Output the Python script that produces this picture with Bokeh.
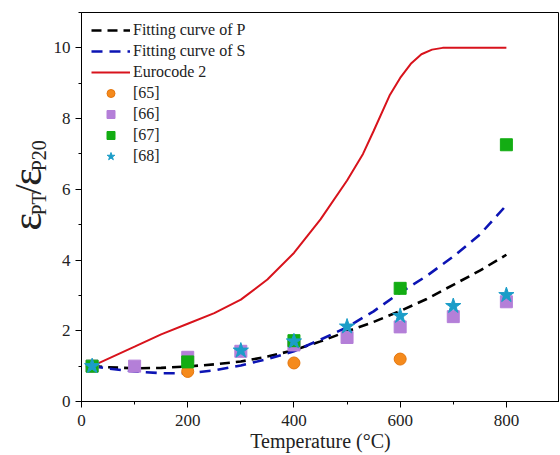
from bokeh.plotting import figure
from bokeh.layouts import row
from bokeh.models import Range1d, SingleIntervalTicker, Legend, LegendItem
from bokeh.core.properties import value
from bokeh.embed import file_html
from bokeh.resources import INLINE
import math

# ---- data ----
fit_t = [20, 50, 100, 150, 200, 250, 300, 350, 400, 450, 500, 550, 600, 650, 700, 750, 800]
fit_p = [1.0, 0.97, 0.94, 0.95, 0.99, 1.05, 1.13, 1.27, 1.45, 1.7, 1.98, 2.25, 2.56, 2.9, 3.3, 3.7, 4.15]
fit_s = [1.0, 0.93, 0.85, 0.80, 0.80, 0.88, 1.02, 1.2, 1.42, 1.75, 2.1, 2.55, 3.08, 3.55, 4.1, 4.72, 5.55]

ec2_t = [20, 100, 150, 200, 250, 300, 350, 400, 450, 500, 530, 550, 580, 600, 620, 640, 660, 680, 700, 800]
ec2_v = [1.0, 1.55, 1.9, 2.2, 2.5, 2.88, 3.45, 4.2, 5.15, 6.25, 7.0, 7.65, 8.65, 9.15, 9.55, 9.82, 9.95, 10.0, 10.0, 10.0]

r65_t = [20, 200, 400, 600]
r65_v = [1.0, 0.85, 1.09, 1.2]
r66_t = [20, 100, 200, 300, 400, 500, 600, 700, 800]
r66_v = [1.0, 1.0, 1.25, 1.42, 1.6, 1.81, 2.11, 2.4, 2.82]
r67_t = [20, 200, 400, 600, 800]
r67_v = [1.0, 1.12, 1.72, 3.2, 7.26]
r68_t = [20, 300, 400, 500, 600, 700, 800]
r68_v = [1.0, 1.44, 1.7, 2.12, 2.42, 2.7, 3.01]

x_title = "Temperature (°C)"
legend_labels = ["Fitting curve of P", "Fitting curve of S", "Eurocode 2", "[65]", "[66]", "[67]", "[68]"]
y_title_pieces = ["ε", "PT", "/", "ε", "P20"]

FONT = "'Liberation Serif', 'Times New Roman', serif"
TXT = "#222222"
H = 455

# ---- main plot ----
p = figure(width=509, height=H, output_backend="svg", toolbar_location=None,
           x_range=Range1d(0, 900), y_range=Range1d(0, 11),
           min_border_left=28, min_border_right=0, min_border_top=12, min_border_bottom=54)
p.grid.visible = False
p.outline_line_color = "black"
p.outline_line_width = 1

p.xaxis.ticker = SingleIntervalTicker(interval=200, num_minor_ticks=2)
p.yaxis.ticker = SingleIntervalTicker(interval=2, num_minor_ticks=2)
for ax in (p.xaxis[0], p.yaxis[0]):
    ax.axis_line_color = "black"
    ax.major_tick_line_color = "black"
    ax.minor_tick_line_color = "black"
    ax.major_tick_in = 0
    ax.major_tick_out = 6
    ax.minor_tick_in = 0
    ax.minor_tick_out = 3
    ax.major_label_text_font = FONT
    ax.major_label_text_font_size = "17px"
    ax.major_label_text_color = TXT
p.xaxis.major_label_standoff = 7
p.yaxis.major_label_standoff = 5
p.xaxis.axis_label = x_title
p.xaxis.axis_label_text_font = FONT
p.xaxis.axis_label_text_font_size = "20px"
p.xaxis.axis_label_text_font_style = "normal"
p.xaxis.axis_label_text_color = TXT
p.xaxis.axis_label_standoff = 1

r_p = p.line(fit_t, fit_p, line_color="black", line_width=2.6, line_dash="10 6")
r_s = p.line(fit_t, fit_s, line_color="#0c14b4", line_width=2.6, line_dash="11 7")
r_e = p.line(ec2_t, ec2_v, line_color="#d8131c", line_width=2)

r65 = p.scatter(r65_t, r65_v, marker="circle", size=12, fill_color="#f58a1c", line_color="#e5760c", line_width=1)
r66 = p.scatter(r66_t, r66_v, marker="square", size=12, fill_color="#b47fd8", line_color="#b47fd8")
r67 = p.scatter(r67_t, r67_v, marker="square", size=12, fill_color="#13ad13", line_color="#13ad13")
r68 = p.scatter(r68_t, r68_v, marker="star", size=16, fill_color="#1b9dc8", line_color="#1b9dc8")

items = [LegendItem(label=l, renderers=[r]) for l, r in
         zip(legend_labels, [r_p, r_s, r_e, r65, r66, r67, r68])]
legend = Legend(items=items, location=(10, 235), padding=0, margin=0, spacing=1,
                glyph_width=39, glyph_height=20, label_height=20, label_standoff=3,
                label_text_font=FONT, label_text_font_size="16px", label_text_color=TXT,
                border_line_color=None, background_fill_alpha=0)
p.add_layout(legend, "center")

# ---- left strip holding the rotated y title with subscripts ----
LW = 50
lf = figure(width=LW, height=H, output_backend="svg", toolbar_location=None, title=None,
            x_range=Range1d(0, LW), y_range=Range1d(0, H),
            x_axis_location=None, y_axis_location=None, min_border=0)
lf.grid.visible = False
lf.outline_line_color = None

main_fs, sub_fs, slash_fs = 42, 20, 38
adv = {"ε": 0.44, "PT": 1.167, "/": 0.278, "P20": 1.556}
base_main, base_sub = 40.5, 45.0     # baseline positions (px from left)
ycur = H - 254
for txt in y_title_pieces:
    sub = txt in ("PT", "P20")
    fs = sub_fs if sub else (slash_fs if txt == "/" else main_fs)
    w = adv[txt] * fs
    xc = (base_sub if sub else base_main) - 0.338 * fs
    lf.text(x=[xc], y=[ycur + w / 2], text=[txt], angle=math.pi / 2,
            text_font=value(FONT), text_font_size=f"{fs}px", text_color=TXT,
            text_align="center", text_baseline="middle")
    ycur += w

layout = row(lf, p)
open("out.html", "w").write(file_html(layout, INLINE))
